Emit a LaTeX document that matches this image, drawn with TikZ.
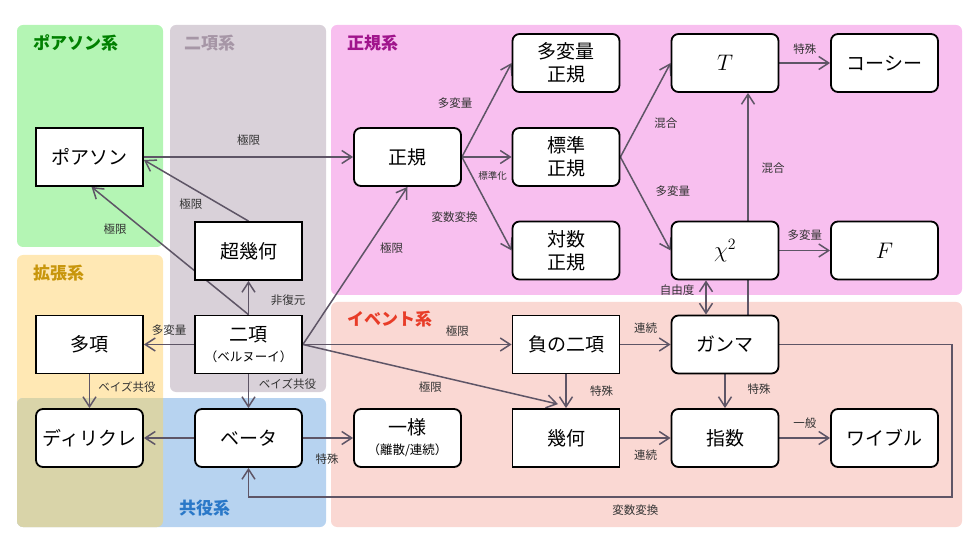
\RequirePackage{fix-cm}
\documentclass[tikz,border=0pt]{standalone}
\usepackage{fontspec}
\setmainfont{Noto Sans CJK JP}
\usetikzlibrary{arrows.meta}
\pgfdeclarelayer{regions}
\pgfdeclarelayer{links}
\pgfsetlayers{regions,links,main}
\tikzset{>={Straight Barb[length=10pt,width=13pt]}}
\definecolor{linkcol}{HTML}{5E5566}
\definecolor{poiscol}{HTML}{B4F5B4}
\definecolor{bincol}{HTML}{D9D1D9}
\definecolor{normcol}{HTML}{F8BFEF}
\definecolor{extcol}{HTML}{FFE8B4}
\definecolor{conjcol}{HTML}{B7D3F0}
\definecolor{olivecol}{HTML}{D9D4A9}
\definecolor{evcol}{HTML}{FAD8D3}
\colorlet{poistxt}{green!50!black}
\definecolor{bintxt}{HTML}{A696A6}
\definecolor{normtxt}{HTML}{A0148C}
\definecolor{exttxt}{HTML}{C8960C}
\definecolor{conjtxt}{HTML}{2A78C8}
\definecolor{evtxt}{HTML}{E83C28}
\tikzstyle{region}=[rounded corners=6pt]
\tikzstyle{title}=[anchor=west,inner sep=0pt,font=\bfseries\fontsize{17}{17}\selectfont]
\tikzstyle{box}=[draw=black,line width=1.8pt,fill=white,minimum width=107pt,minimum height=58pt,
                 inner sep=0pt,align=center,font=\fontsize{19}{23}\selectfont]
\tikzstyle{rbox}=[box,rounded corners=7pt]
\tikzstyle{mbox}=[rbox,font=\fontsize{22.5}{24}\selectfont]
\tikzstyle{link}=[linkcol,line width=1.5pt,->]
\tikzstyle{lbl}=[black!80,inner sep=0pt,font=\fontsize{11.5}{12}\selectfont]
\def\sub#1{\\[-3pt]{\fontsize{12.5}{13}\selectfont （#1）}}

\begin{document}
\begin{tikzpicture}[x=1pt,y=-1pt]
  \useasboundingbox (0,0) rectangle (980,553);
  
  % REGIONS
  \begin{pgfonlayer}{regions}
    \fill[region,poiscol] (17,25) rectangle (163,247);
    \fill[region,bincol] (170,25) rectangle (326,392);
    \fill[region,normcol] (331,25) rectangle (962,295);
    \fill[region,extcol] (17,255) rectangle (163,527);
    \fill[region,conjcol] (17,398) rectangle (326,527);
    \fill[region,evcol] (331,302) rectangle (962,527);
    \begin{scope}
      \clip[region] (17,255) rectangle (163,527);
      \fill[region,olivecol] (17,398) rectangle (326,527);
    \end{scope}
  \end{pgfonlayer}
  \node[title,poistxt] (t-pois) at (33,43) {ポアソン系};
  \node[title,bintxt] (t-bin) at (184,43) {二項系};
  \node[title,normtxt] (t-norm) at (347,43) {正規系};
  \node[title,exttxt] (t-ext) at (33,273) {拡張系};
  \node[title,conjtxt] (t-conj) at (179,508) {共役系};
  \node[title,evtxt] (t-ev) at (347,319) {イベント系};
  
  % NODES
  \node[box] (pois) at (89.5,157) {ポアソン};
  \node[box] (hyper) at (248.5,251) {超幾何};
  \node[box] (binom) at (248.5,344.5) {二項\sub{ベルヌーイ}};
  \node[box] (multi) at (89.5,344.5) {多項};
  \node[rbox] (dirich) at (89.5,438) {ディリクレ};
  \node[rbox] (beta) at (248.5,438) {ベータ};
  \node[rbox] (unif) at (407.5,438) {一様\sub{離散/連続}};
  \node[rbox] (norm) at (407.5,157) {正規};
  \node[rbox] (mvn) at (566,63) {多変量\\正規};
  \node[rbox] (stdn) at (566,157) {標準\\正規};
  \node[rbox] (logn) at (566,250.5) {対数\\正規};
  \node[mbox] (tdist) at (725,63) {$T$};
  \node[rbox] (cauchy) at (884.5,63) {コーシー};
  \node[mbox] (chisq) at (725,250.5) {$\chi^2$};
  \node[mbox] (fdist) at (884.5,250.5) {$F$};
  \node[box] (negbin) at (566,344.5) {負の二項};
  \node[box] (geom) at (566,438) {幾何};
  \node[rbox] (gamma) at (725,344.5) {ガンマ};
  \node[rbox] (expo) at (725,438) {指数};
  \node[rbox] (weib) at (884.5,438) {ワイブル};
  \coordinate (loopR) at (952,497);
  \coordinate (loopL) at (248.5,497);
  
  % LINKS
  \begin{pgfonlayer}{links}
    \draw[link] (pois.east) -- (norm.west) node[lbl,midway,yshift=17pt] (l1) {極限};
    \draw[link] (hyper.north) -- ([yshift=-3pt]pois.east) node[lbl,pos=0.55,yshift=-17pt] (l2) {極限};
    \draw[link] (binom.north) -- ([xshift=2pt]pois.south) node[lbl,pos=0.85,yshift=-23.5pt] (l3) {極限};
    \draw[link] (binom.north) -- (hyper.south) node[lbl,midway,xshift=39.5pt,yshift=-2.5pt] (l4) {非復元};
    \draw[link] (binom.west) -- (multi.east) node[lbl,midway,yshift=14.5pt] (l5) {多変量};
    \draw[link] (binom.south) -- (beta.north) node[lbl,midway,xshift=39pt,yshift=7.5pt] (l6) {ベイズ共役};
    \draw[link] (multi.south) -- (dirich.north) node[lbl,midway,xshift=37.5pt,yshift=4.5pt] (l7) {ベイズ共役};
    \draw[link] (beta.west) -- (dirich.east);
    \draw[link] (beta.east) -- (unif.west) node[lbl,midway,xshift=-1pt,yshift=-21pt] (l8) {特殊};
    \draw[link] (binom.east) -- (norm.south) node[lbl,pos=0.61,xshift=25pt] (l9) {極限};
    \draw[link] (binom.east) -- (negbin.west) node[lbl,pos=0.74,yshift=13.5pt] (l10) {極限};
    \draw[link] (binom.east) -- ([xshift=-8pt,yshift=4pt]geom.north) node[lbl,pos=0.5,yshift=-12.5pt] (l11) {極限};
    \draw[link] (negbin.south) -- (geom.north) node[lbl,midway,xshift=35.5pt] (l12) {特殊};
    \draw[link] (negbin.east) -- (gamma.west) node[lbl,midway,yshift=16.5pt] (l13) {連続};
    \draw[link] (geom.east) -- (expo.west) node[lbl,midway,yshift=-17pt] (l14) {連続};
    \draw[link] (gamma.south) -- (expo.north) node[lbl,midway,xshift=34pt,yshift=2.5pt] (l15) {特殊};
    \draw[link] (expo.east) -- (weib.west) node[lbl,midway,yshift=15pt] (l16) {一般};
    \draw[link] (gamma.east) -| (loopR) -- node[lbl,pos=0.45,yshift=-13pt] (l17) {変数変換} (loopL) -- (beta.south);
    \draw[link,<->] ([xshift=-19pt]chisq.south) -- ([xshift=-19pt]gamma.north) node[lbl,midway,xshift=-29pt,yshift=7pt] (l18) {自由度};
    \draw[link] ([xshift=23pt]gamma.north) -- ([xshift=23pt]tdist.south) node[lbl,pos=0.66,xshift=25pt] (l19) {混合};
    \draw[link] (stdn.east) -- (tdist.west) node[lbl,pos=0.36,xshift=27.5pt] (l20) {混合};
    \draw[link] (stdn.east) -- (chisq.west) node[lbl,pos=0.37,xshift=34pt] (l21) {多変量};
    \draw[link] (norm.east) -- (mvn.west) node[lbl,pos=0.57,xshift=-35pt] (l22) {多変量};
    \draw[link] (norm.east) -- (stdn.west) node[lbl,pos=0.62,yshift=-19pt,font=\fontsize{9.5}{10}\selectfont] (l23) {標準化};
    \draw[link] (norm.east) -- (logn.west) node[lbl,pos=0.64,xshift=-39pt] (l24) {変数変換};
    \draw[link] (tdist.east) -- (cauchy.west) node[lbl,midway,yshift=14pt] (l25) {特殊};
    \draw[link] (chisq.east) -- (fdist.west) node[lbl,midway,yshift=15.5pt] (l26) {多変量};
  \end{pgfonlayer}
  
\end{tikzpicture}
\end{document}
